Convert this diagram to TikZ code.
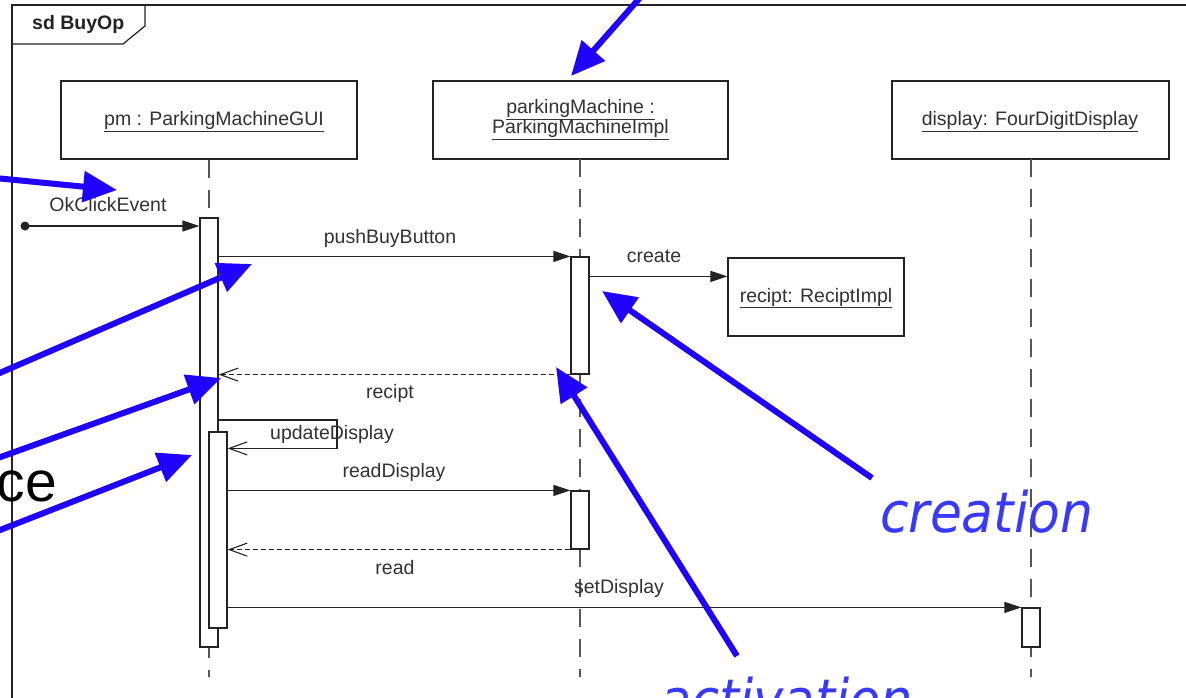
\documentclass[tikz,border=0pt]{standalone}
\usepackage{fontspec}
\setmainfont{Liberation Sans}
\newfontfamily\annfont{DejaVu Sans}
\usetikzlibrary{arrows.meta,calc}
\definecolor{annblue}{RGB}{32,0,255}
\definecolor{anntext}{RGB}{56,56,255}
\definecolor{ink}{RGB}{35,35,35}
\definecolor{lbl}{RGB}{50,50,50}
\definecolor{lifegray}{RGB}{85,85,85}
\newcommand{\lblfont}{\fontsize{19.5}{20}\selectfont}
\begin{document}
\begin{tikzpicture}[x=1pt,y=-1pt,
  lifebox/.style={draw=ink,line width=1.3pt,fill=white,minimum width=#1,minimum height=78pt,inner sep=0pt,align=center,font=\lblfont,text=lbl},
  actbox/.style={draw=ink,line width=1.2pt,fill=white,minimum width=18pt,minimum height=#1,inner sep=0pt},
  lifeline/.style={draw=lifegray,line width=1.5pt,dash pattern=on 18pt off 12pt},
  msg/.style={draw=ink,line width=1.2pt,-{Triangle[length=17pt,width=11pt]}},
  ret/.style={draw=ink,line width=1.1pt,dash pattern=on 5pt off 3pt,-{Straight Barb[length=18pt,width=13pt,line width=1.1pt]}},
  self/.style={draw=ink,line width=1.1pt,-{Straight Barb[length=18pt,width=13pt,line width=1.1pt]}},
  lab/.style={font=\lblfont,text=lbl,inner sep=0pt,anchor=base},
  ann/.style={draw=annblue,line width=6pt,-{Triangle[length=34pt,width=30pt]}},
  anntxt/.style={font=\annfont\itshape\fontsize{56}{60}\selectfont,text=anntext,inner sep=0pt,anchor=base west}
]
\clip (0,0) rectangle (1186,698);
\fill[white] (0,0) rectangle (1186,698);

% frame
\draw[draw=ink,line width=1.3pt] (12,5) rectangle (1300,800);
\draw[draw=ink,line width=1.2pt] (12,44) -- (123,44) -- (145,26) -- (145,5);
\node[font=\bfseries\lblfont,text=ink,inner sep=0pt,anchor=base west] (title) at (32,30) {sd BuyOp};

% lifeline heads
\node[lifebox=296pt] (pm) at (209,120) {};
\node[lab] (pmt) at (214,126) {\underline{pm : ParkingMachineGUI}};
\node[lifebox=295pt] (mach) at (580.5,120) {};
\node[lab] (macht1) at (580.5,114) {\underline{parkingMachine :}};
\node[lab] (macht2) at (580.5,134) {\underline{ParkingMachineImpl}};
\node[lifebox=277pt] (disp) at (1030.5,120) {};
\node[lab] (dispt) at (1030,126) {\underline{display: FourDigitDisplay}};

% lifelines
\coordinate (bot) at (0,677);
\draw[lifeline] (pm.south) -- (pm.south |- bot);
\draw[lifeline] (580,159) -- (580,677);
\draw[lifeline] (1031,159) -- (1031,677);

% activations
\node[actbox=429pt] (a1) at (209,432.5) {};
\node[actbox=196pt] (a2) at (218,530) {};
\node[actbox=117pt] (b1) at (580,315.5) {};
\node[actbox=58pt] (b2) at (580,520) {};
\node[actbox=39pt] (c1) at (1031,627.5) {};

% created object
\node[lifebox=176pt] (rec) at (816,297) {};
\node[lab] (rect) at (816,302) {\underline{recipt: ReciptImpl}};

% messages
\coordinate (ok) at (25,226);
\fill[ink] (ok) circle (4.5pt);
\draw[msg] (ok) -- (ok -| a1.west);
\node[lab] (okl) at (108,211) {OkClickEvent};

\draw[msg] (a1.east |- b1.north) -- (b1.north west);
\node[lab] (pbl) at (390,243) {pushBuyButton};

\coordinate (cr) at ($(b1.north east)+(0,20)$);
\draw[msg] (cr) -- (cr -| rec.west);
\node[lab] (crl) at (654,262) {create};

\draw[ret] (b1.south west) -- (b1.south west -| a1.east);
\node[lab] (rcl) at (390,398) {recipt};

\coordinate (u1) at (218,420);
\coordinate (u2) at ($(a2.north east)+(0,17)$);
\draw[self] (u1) -- ++(119,0) |- (u2);
\node[lab] (udl) at (332,439) {updateDisplay};

\draw[msg] (a2.east |- b2.north) -- (b2.north west);
\node[lab] (rdl) at (394,477) {readDisplay};

\draw[ret] (b2.south west) -- (b2.south west -| a2.east);
\node[lab] (rl) at (395,574) {read};

\draw[msg] (a2.east |- c1.north) -- (c1.north west);
\node[lab] (sdl) at (619,593) {setDisplay};

% annotations
\coordinate (pa1) at (645,-8);   \coordinate (ta1) at (571,76);
\coordinate (pb1) at (-5,178);   \coordinate (tb1) at (117,190);
\coordinate (pc1) at (-5,375);   \coordinate (tc1) at (252,264);
\coordinate (pd1) at (-5,459);   \coordinate (td1) at (221,378);
\coordinate (pe1) at (-5,532);   \coordinate (te1) at (192,455);
\coordinate (pg1) at (872,478);  \coordinate (tg1) at (602,291);
\coordinate (ph1) at (737,656);  \coordinate (th1) at (556,367);
\draw[ann] (pa1) -- (ta1);
\draw[ann] (pb1) -- (tb1);
\draw[ann] (pc1) -- (tc1);
\draw[ann] (pd1) -- (td1);
\draw[ann] (pe1) -- (te1);
\draw[ann] (pg1) -- (tg1);
\draw[ann] (ph1) -- (th1);

\node[font=\fontsize{57}{60}\selectfont,text=black,inner sep=0pt,anchor=base east] (ce) at (57,501) {ce};
\node[anntxt] (creation) at (880,532) {\scalebox{0.926}[1]{creation}};
\node[anntxt] (activation) at (660,719) {\scalebox{0.91}[1]{activation}};
\end{tikzpicture}
\end{document}
